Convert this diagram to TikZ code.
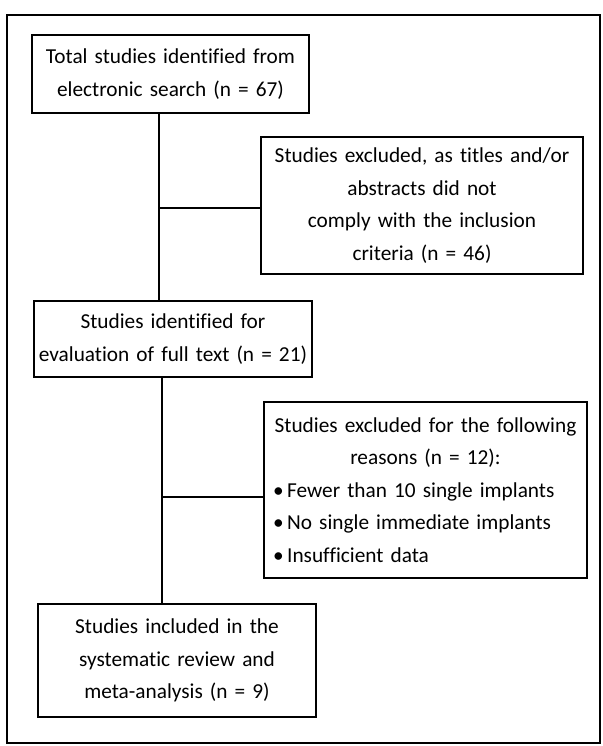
\documentclass[tikz,border=0pt]{standalone}
\usepackage{fontspec}
\setmainfont[Ligatures=NoCommon]{Carlito}

\begin{document}
\begin{tikzpicture}[x=1pt,y=-1pt,
  box/.style={draw, line width=1.1pt, align=center, inner xsep=4pt, inner ysep=0pt,
    font=\fontsize{21.3}{32.5}\selectfont},
  link/.style={line width=1.6pt}]
\useasboundingbox (0,0) rectangle (602,746);
\draw [line width=1.1pt] (7,15) rectangle (600,743);
\node (S) [box, text width=269pt, minimum height=78pt] at (170.5,74) {Total studies identified from\\electronic search (n = 67)};
\node (E1) [box, text width=314pt, minimum height=137pt] at (422,205.5) {Studies excluded, as titles and/or\\abstracts did not\\comply with the inclusion\\criteria (n = 46)};
\node (F) [box, text width=270pt, minimum height=76pt] at (173,339) {Studies identified for\\evaluation of full text (n = 21)};
\node (E2) [box, text width=315pt, minimum height=176pt] at (425.5,490) {Studies excluded for the following\\reasons (n = 12):\\
  \makebox[\linewidth][l]{\hspace{5pt}\textbullet\,Fewer than 10 single implants}\\
  \makebox[\linewidth][l]{\hspace{5pt}\textbullet\,No single immediate implants}\\
  \makebox[\linewidth][l]{\hspace{5pt}\textbullet\,Insufficient data}};
\node (I) [box, text width=270pt, minimum height=113pt] at (177,660.5) {Studies included in the\\systematic review and\\meta-analysis (n = 9)};
\coordinate (J1) at (159,208);
\coordinate (J2) at (162,497);
%Main flow:
\path [link]
(S.south -| J1) edge (F.north -| J1)
(F.south -| J2) edge (I.north -| J2)
;
%Exclusions:
\path [link]
(J1) edge (E1.west |- J1)
(J2) edge (E2.west |- J2)
;
\end{tikzpicture}
\end{document}
